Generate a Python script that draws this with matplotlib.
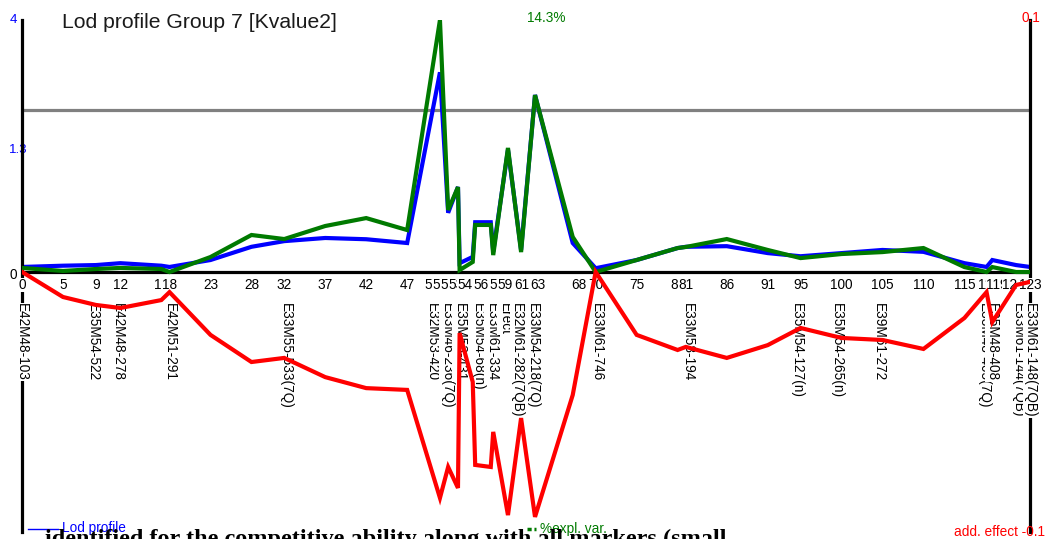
import matplotlib
matplotlib.use('Agg')
import matplotlib.pyplot as plt
from matplotlib.lines import Line2D

# ---------------- data ----------------
positions = [0, 5, 9, 12, 17, 18, 23, 28, 32, 37, 42, 47, 51, 52, 53.2, 53.4, 55, 55.3,
             57.2, 57.5, 59.3, 60.9, 62.6, 67.2, 70, 75, 80, 81, 86, 91, 95, 100, 105,
             110, 115, 117.7, 118.4, 121.3, 123]
lod = [0.08, 0.10, 0.11, 0.14, 0.10, 0.08, 0.19, 0.40, 0.49, 0.54, 0.52, 0.46, 3.17, 0.94,
       1.35, 0.14, 0.24, 0.79, 0.79, 0.32, 1.94, 0.35, 2.81, 0.46, 0.06, 0.19, 0.38, 0.40,
       0.41, 0.30, 0.25, 0.30, 0.35, 0.32, 0.14, 0.08, 0.19, 0.11, 0.08]
pct_expl = [0.23, 0.06, 0.17, 0.23, 0.17, 0.0, 0.85, 2.10, 1.87, 2.61, 3.06, 2.38, 14.3, 3.52,
            4.82, 0.11, 0.57, 2.67, 2.67, 0.96, 7.04, 1.13, 10.04, 1.99, 0.0, 0.68, 1.36, 1.42,
            1.87, 1.25, 0.79, 1.02, 1.13, 1.36, 0.28, 0.0, 0.28, 0.0, 0.0]
add_effect = [0.0016, -0.0082, -0.0113, -0.0125, -0.0094, -0.0063, -0.0230, -0.0336, -0.0320,
              -0.0395, -0.0438, -0.0445, -0.0867, -0.0746, -0.0828, -0.0223, -0.0414, -0.0738,
              -0.0746, -0.0609, -0.0934, -0.0555, -0.0941, -0.0465, 0.0016, -0.0230, -0.0289,
              -0.0277, -0.0320, -0.0270, -0.0203, -0.0242, -0.0250, -0.0285, -0.0164, -0.0063,
              -0.0180, -0.0035, -0.0023]

tick_positions = [0, 5, 9, 12, 17, 18, 23, 28, 32, 37, 42, 47, 50, 51, 52, 53, 54, 56, 58, 59,
                  61, 63, 68, 70, 75, 80, 81, 86, 91, 95, 100, 105, 110, 115, 118, 119, 121, 123]

marker_positions = [0, 8.7, 11.7, 18, 32.2, 50.0, 51.8, 53.4, 55.6, 57.3, 58.9, 60.4, 62.3,
                    70.1, 81.2, 94.5, 99.4, 104.6, 117.4, 118.4, 121.5, 123]
marker_names = ["E42M48-103", "E35M54-522", "E42M48-278", "E42M51-291", "E33M55-533(7Q)",
                "E32M53-420", "E33M46-236(7Q)", "E35M53-431", "E35M54-68(n)", "E33M61-334",
                "Erect", "E32M61-282(7QB)", "E33M54-218(7Q)", "E33M61-746", "E33M58-194",
                "E35M54-127(n)", "E35M54-265(n)", "E39M61-272", "E33M48-405(7Q)", "E35M48-408",
                "E33M61-144(7QB)", "E33M61-148(7QB)"]

lod_threshold = 2.57
lod_max = 4
pct_max = 14.3
add_max = 0.1

# ---------------- layout ----------------
W, H = 1047, 539
FONT = 'Liberation Sans'
fig = plt.figure(figsize=(W / 100, H / 100), dpi=100)
fig.patch.set_facecolor('white')

L, R, T, B, Y0 = 22, 1030, 20, 532, 272
ax = fig.add_axes([L / W, 1 - B / H, (R - L) / W, (B - T) / H])
ax.set_facecolor('white')
ax.set_xlim(0, 123)
ax.set_ylim(-lod_max * (B - Y0) / (Y0 - T), lod_max)

ax_pct = ax.twinx()
ax_pct.set_ylim(-pct_max * (B - Y0) / (Y0 - T), pct_max)
ax_add = ax.twinx()
ax_add.set_ylim(-add_max, add_max)

for a in (ax, ax_pct, ax_add):
    a.set_xticks([])
    a.set_yticks([])
    for s in a.spines.values():
        s.set_visible(False)
for side in ('left', 'right'):
    ax.spines[side].set_visible(True)
    ax.spines[side].set_color('black')
    ax.spines[side].set_linewidth(2.3)

# baseline and threshold
ax.axhline(0, color='black', lw=2.3, zorder=1)
ax.axhline(lod_threshold, color='#808080', lw=2.3, zorder=1)

# x tick labels
for t in tick_positions:
    ax.annotate(str(t), xy=(t, 0), xytext=(0, -4.3), textcoords='offset points',
                ha='center', va='top', fontsize=9.8, family=FONT, color='black',
                bbox=dict(facecolor='white', edgecolor='none', pad=0.3), zorder=3,
                annotation_clip=False)

# marker labels
for p, name in zip(marker_positions, marker_names):
    ax.annotate(name, xy=(p, 0), xytext=(0, -22.3), textcoords='offset points',
                ha='center', va='top', rotation=270, fontsize=9.8, family=FONT,
                color='black', bbox=dict(facecolor='white', edgecolor='none', pad=0.3),
                zorder=3, annotation_clip=False)

# curves
ax.plot(positions, lod, color='#0000ff', lw=3.0, zorder=2, solid_joinstyle='miter')
ax_pct.plot(positions, pct_expl, color='#007a00', lw=3.0, zorder=2, solid_joinstyle='miter')
ax_add.plot(positions, add_effect, color='#ff0000', lw=3.0, zorder=4, solid_joinstyle='miter')

# axis value labels
ax.text(-9 / 8.2, lod_max, '4', ha='center', va='center', fontsize=9.5, family=FONT,
        color='#0000ff', clip_on=False, zorder=1)
ax.text(-4 / 8.2, 1.94, '1.3', ha='center', va='center', fontsize=9.5, family=FONT,
        color='#0000ff', clip_on=False, zorder=1)
ax.text(-9 / 8.2, -0.05, '0', ha='center', va='center', fontsize=9.8, family=FONT,
        color='black', clip_on=False, zorder=1)
fig.text(1031 / W, 1 - 18 / H, '0.1', ha='center', va='center', fontsize=9.8,
         family=FONT, color='#ff0000')
fig.text(546 / W, 1 - 18 / H, '14.3%', ha='center', va='center', fontsize=9.8,
         family=FONT, color='#007a00')

# title
fig.text(62 / W, 1 - 22 / H, 'Lod profile Group 7 [Kvalue2]', ha='left', va='center',
         fontsize=15.2, family=FONT, color='#1a1a1a')

# legend items
fig.lines.append(Line2D([28 / W, 58 / W], [1 - 529 / H, 1 - 529 / H], color='#0000ff',
                        lw=1.0, transform=fig.transFigure))
fig.text(62 / W, 1 - 528 / H, 'Lod profile', ha='left', va='center', fontsize=9.8,
         family=FONT, color='#0000ff')
fig.lines.append(Line2D([527 / W, 536 / W], [1 - 529 / H, 1 - 529 / H], color='#007a00',
                        lw=2.5, linestyle=(0, (1.2, 0.8)), transform=fig.transFigure))
fig.text(540 / W, 1 - 529 / H, '%expl. var.', ha='left', va='center', fontsize=9.8,
         family=FONT, color='#007a00')
fig.text(1045 / W, 1 - 532 / H, 'add. effect -0.1', ha='right', va='center', fontsize=9.8,
         family=FONT, color='#ff0000')

# cut-off caption text at the very bottom (only its top edge is visible)
fig.text(45 / W, 1 - 545 / H, 'identified for the competitive ability along with all markers (small',
         ha='left', va='baseline', fontsize=17.5, family='Liberation Serif', fontweight='bold',
         color='black')

fig.savefig('out.png', dpi=100, facecolor='white')
